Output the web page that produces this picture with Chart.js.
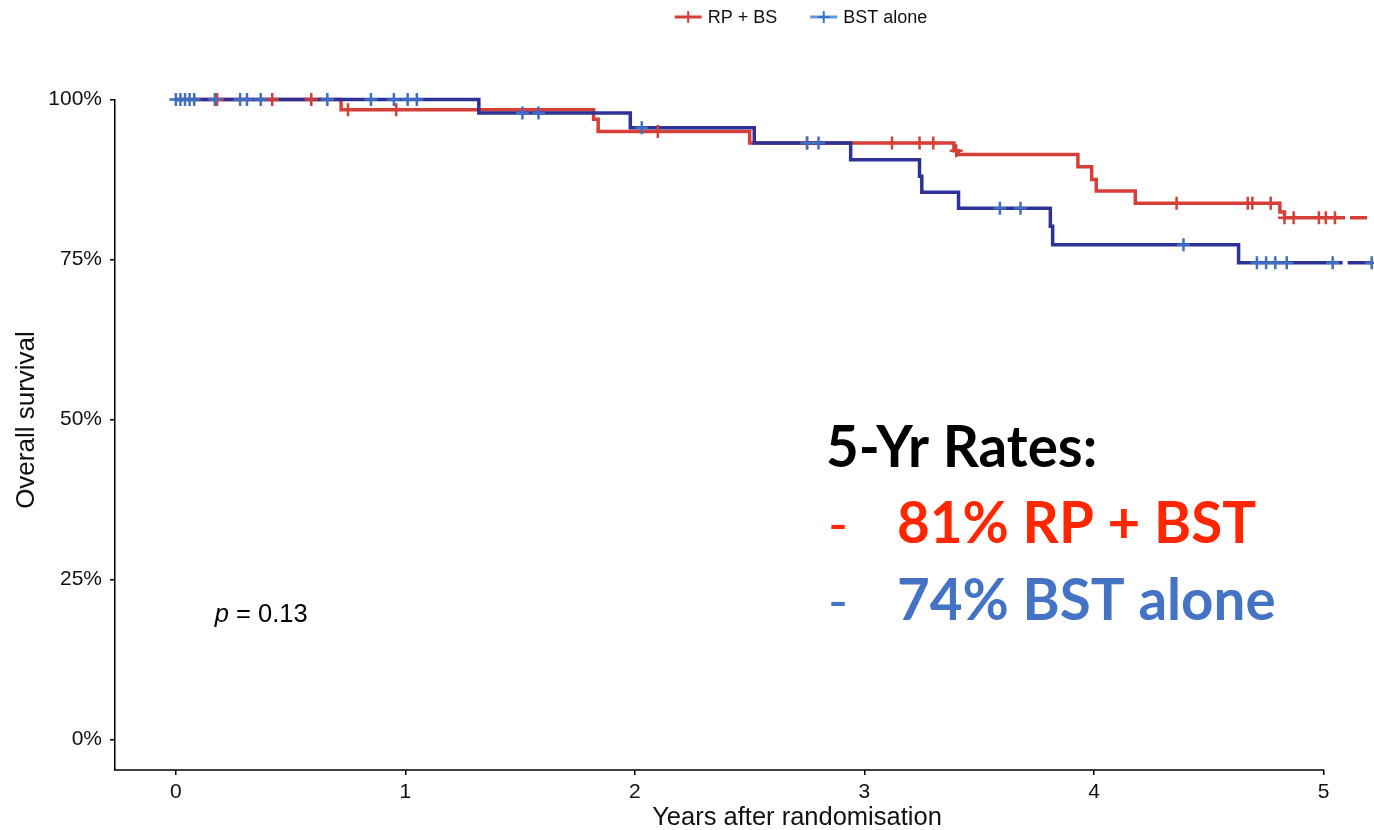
<!DOCTYPE html>
<html>
<head>
<meta charset="utf-8">
<title>Overall survival</title>
<script src="https://cdn.jsdelivr.net/npm/chart.js@4.4.1/dist/chart.umd.min.js"></script>
<style>
    html, body { margin: 0; padding: 0; background: #fff; }
    #wrap { width: 1374px; height: 830px; position: relative; }
</style>
</head>
<body>
<div id="wrap"><canvas id="km"></canvas></div>
<script>
// Kaplan-Meier curves, values
const xTicks = [0, 1, 2, 3, 4, 5];
const yTicks = [0, 25, 50, 75, 100];

const rpLabel = 'RP + BS';
const rpEventTimes = [0, 0.72, 1.82, 1.84, 2.50, 3.39, 3.41, 3.93, 3.99, 4.01, 4.18, 4.81, 4.83];
const rpSurvival = [100, 98.4, 96.9, 95.0, 93.2, 92.0, 91.4, 89.5, 87.5, 85.7, 83.8, 82.4, 81.5];
const rpCensorTimes = [0.18, 0.42, 0.59, 0.75, 0.96, 2.10, 2.75, 3.12, 3.24, 3.30, 3.40,
    4.36, 4.67, 4.69, 4.77, 4.83, 4.87, 4.98, 5.01, 5.05];
const rpLastFollowUp = 5.19;

const bstLabel = 'BST alone';
const bstEventTimes = [0, 1.32, 1.98, 2.52, 2.94, 3.24, 3.25, 3.41, 3.81, 3.82, 4.63];
const bstSurvival = [100, 97.9, 95.6, 93.2, 90.6, 88.0, 85.5, 83.0, 80.2, 77.3, 74.5];
const bstCensorTimes = [0.00, 0.02, 0.04, 0.06, 0.08, 0.17, 0.28, 0.31, 0.37, 0.66, 0.85,
    0.95, 1.01, 1.05, 1.51, 1.58, 2.03, 2.75, 2.80, 3.59, 3.68, 4.39, 4.71, 4.75, 4.79,
    4.84, 5.04, 5.21];
const bstLastFollowUp = 5.21;

const xTitle = 'Years after randomisation';
const yTitle = 'Overall survival';
const pValueText = '0.13';
const rateTitle = '5-Yr Rates:';
const rateLines = [
    { text: '81% RP + BST', color: '#ff2600' },
    { text: '74% BST alone', color: '#4472c4' }
];

const RED = '#d63f38';
const NAVY = '#2e3296';
const BLUE_MARK = '#3f6fc2';
const BLUE_KEY = '#5b9bd8';
const AXIS_FONT = 'Liberation Sans, Arial, sans-serif';

// survival value in force at time t (step function)
function survivalAt(times, surv, t) {
    let s = surv[0];
    for (let i = 0; i < times.length; i++) {
        if (times[i] <= t) s = surv[i];
    }
    return s;
}

// line points: every event and censoring time, plus last follow-up
function curvePoints(times, surv, censors, lastTime) {
    const all = times.concat(censors.filter(t => t < lastTime), [lastTime]);
    const uniq = Array.from(new Set(all)).sort((a, b) => a - b);
    return uniq.map(t => ({ x: t, y: survivalAt(times, surv, t) }));
}

function censorPoints(times, surv, censors) {
    return censors.map(t => ({ x: t, y: survivalAt(times, surv, t) }));
}

function lineDataset(label, points, color, order) {
    const last = points.length - 1;
    return {
        label: label,
        data: points,
        borderColor: color,
        borderWidth: 3.5,
        pointRadius: 0,
        stepped: 'before',
        fill: false,
        clip: false,
        order: order,
        segment: {
            // the tail after the last censored patient is broken in the source
            borderDash: ctx => ctx.p1DataIndex === last ? [10, 5, 200, 0] : undefined
        }
    };
}

function censorDataset(label, points, color, order) {
    return {
        label: label,
        data: points,
        showLine: false,
        pointStyle: 'cross',
        pointRadius: 6.5,
        pointBorderWidth: 2.5,
        pointBorderColor: color,
        pointBackgroundColor: color,
        clip: false,
        order: order
    };
}

// legend at the top, line sample with a censor tick like survminer
const kmLegend = {
    id: 'kmLegend',
    afterDraw(chart) {
        const ctx = chart.ctx;
        const items = [
            { label: rpLabel, line: RED, mark: RED },
            { label: bstLabel, line: BLUE_KEY, mark: BLUE_MARK }
        ];
        const y = 17;
        const sample = 27, gapText = 6, gapItem = 33;
        ctx.save();
        ctx.font = '18px ' + AXIS_FONT;
        let total = 0;
        items.forEach((it, i) => {
            it.w = ctx.measureText(it.label).width;
            total += sample + gapText + it.w + (i ? gapItem : 0);
        });
        let x = 801 - total / 2;
        items.forEach((it, i) => {
            if (i) x += gapItem;
            ctx.lineWidth = 3;
            ctx.strokeStyle = it.line;
            ctx.beginPath();
            ctx.moveTo(x, y);
            ctx.lineTo(x + sample, y);
            ctx.stroke();
            ctx.lineWidth = 2;
            ctx.strokeStyle = it.mark;
            ctx.beginPath();
            ctx.moveTo(x + sample / 2, y - 6);
            ctx.lineTo(x + sample / 2, y + 6);
            ctx.moveTo(x + sample / 2 - 6, y);
            ctx.lineTo(x + sample / 2 + 6, y);
            ctx.stroke();
            ctx.fillStyle = '#111';
            ctx.textBaseline = 'middle';
            ctx.fillText(it.label, x + sample + gapText, y + 1);
            x += sample + gapText + it.w;
        });
        ctx.restore();
    }
};

// x axis line stops at the last tick; axis titles sit where the uncropped panel put them
const axisDecor = {
    id: 'axisDecor',
    afterDraw(chart) {
        const ctx = chart.ctx;
        const area = chart.chartArea;
        const sx = chart.scales.x;
        ctx.save();
        ctx.strokeStyle = '#000';
        ctx.lineWidth = 1.5;
        ctx.beginPath();
        ctx.moveTo(area.left - 0.75, area.bottom);
        ctx.lineTo(sx.getPixelForValue(xTicks[xTicks.length - 1]) + 0.75, area.bottom);
        ctx.stroke();

        ctx.fillStyle = '#111';
        ctx.font = '25.5px ' + AXIS_FONT;
        ctx.textAlign = 'center';
        ctx.textBaseline = 'middle';
        ctx.fillText(xTitle, 797, 818);

        ctx.translate(27, 420);
        ctx.rotate(-Math.PI / 2);
        ctx.font = '26px ' + AXIS_FONT;
        ctx.fillText(yTitle, 0, 0);
        ctx.restore();
    }
};

// p-value and the slide annotation with 5-year rates
const annotations = {
    id: 'annotations',
    afterDraw(chart) {
        const ctx = chart.ctx;
        const sx = chart.scales.x, sy = chart.scales.y;
        ctx.save();
        ctx.textBaseline = 'alphabetic';
        ctx.fillStyle = '#000';

        let px = sx.getPixelForValue(0.17);
        const py = sy.getPixelForValue(18.4);
        ctx.font = 'italic 25.5px ' + AXIS_FONT;
        ctx.fillText('p', px, py);
        px += ctx.measureText('p').width;
        ctx.font = '25.5px ' + AXIS_FONT;
        ctx.fillText(' = ' + pValueText, px, py);

        ctx.font = 'bold 56.5px Lato, sans-serif';
        ctx.fillText(rateTitle, 826, 467);
        rateLines.forEach((ln, i) => {
            const by = 543 + i * 77;
            ctx.fillStyle = ln.color;
            ctx.font = '54px Lato, sans-serif';
            ctx.fillText('-', 828, by);
            ctx.font = 'bold 56.5px Lato, sans-serif';
            ctx.fillText(ln.text, 897, by);
        });
        ctx.restore();
    }
};

const tickGrid = { drawOnChartArea: false, drawTicks: true, tickLength: 5, color: '#000', lineWidth: 1.5 };

const chart = new Chart(document.getElementById('km'), {
    type: 'line',
    data: {
        datasets: [
            lineDataset(rpLabel, curvePoints(rpEventTimes, rpSurvival, rpCensorTimes, rpLastFollowUp), RED, 3),
            lineDataset(bstLabel, curvePoints(bstEventTimes, bstSurvival, bstCensorTimes, bstLastFollowUp), NAVY, 2),
            censorDataset(rpLabel + ' censored', censorPoints(rpEventTimes, rpSurvival, rpCensorTimes), RED, 1),
            censorDataset(bstLabel + ' censored', censorPoints(bstEventTimes, bstSurvival, bstCensorTimes), BLUE_MARK, 0)
        ]
    },
    options: {
        responsive: true,
        maintainAspectRatio: false,
        animation: false,
        devicePixelRatio: 1,
        layout: {
            autoPadding: false,
            padding: { top: 99.5, right: 0, left: 0, bottom: 0 }
        },
        plugins: {
            legend: { display: false },
            tooltip: { enabled: false }
        },
        scales: {
            x: {
                type: 'linear',
                min: -0.265,
                max: 5.22,
                afterBuildTicks: s => { s.ticks = xTicks.map(v => ({ value: v })); },
                afterFit: s => {
                    s.height = 60;
                    s.paddingLeft = 0;
                    s.paddingRight = 0;
                },
                ticks: { color: '#111', font: { family: AXIS_FONT, size: 21 }, padding: 5 },
                grid: tickGrid,
                border: { display: false }
            },
            y: {
                type: 'linear',
                min: -4.8,
                max: 100,
                afterBuildTicks: s => { s.ticks = yTicks.map(v => ({ value: v })); },
                afterFit: s => { s.width = 115; },
                ticks: {
                    color: '#111',
                    font: { family: AXIS_FONT, size: 21 },
                    padding: 8,
                    callback: v => v + '%'
                },
                grid: tickGrid,
                border: { display: true, color: '#000', width: 1.5 }
            }
        }
    },
    plugins: [kmLegend, axisDecor, annotations]
});
</script>
</body>
</html>
